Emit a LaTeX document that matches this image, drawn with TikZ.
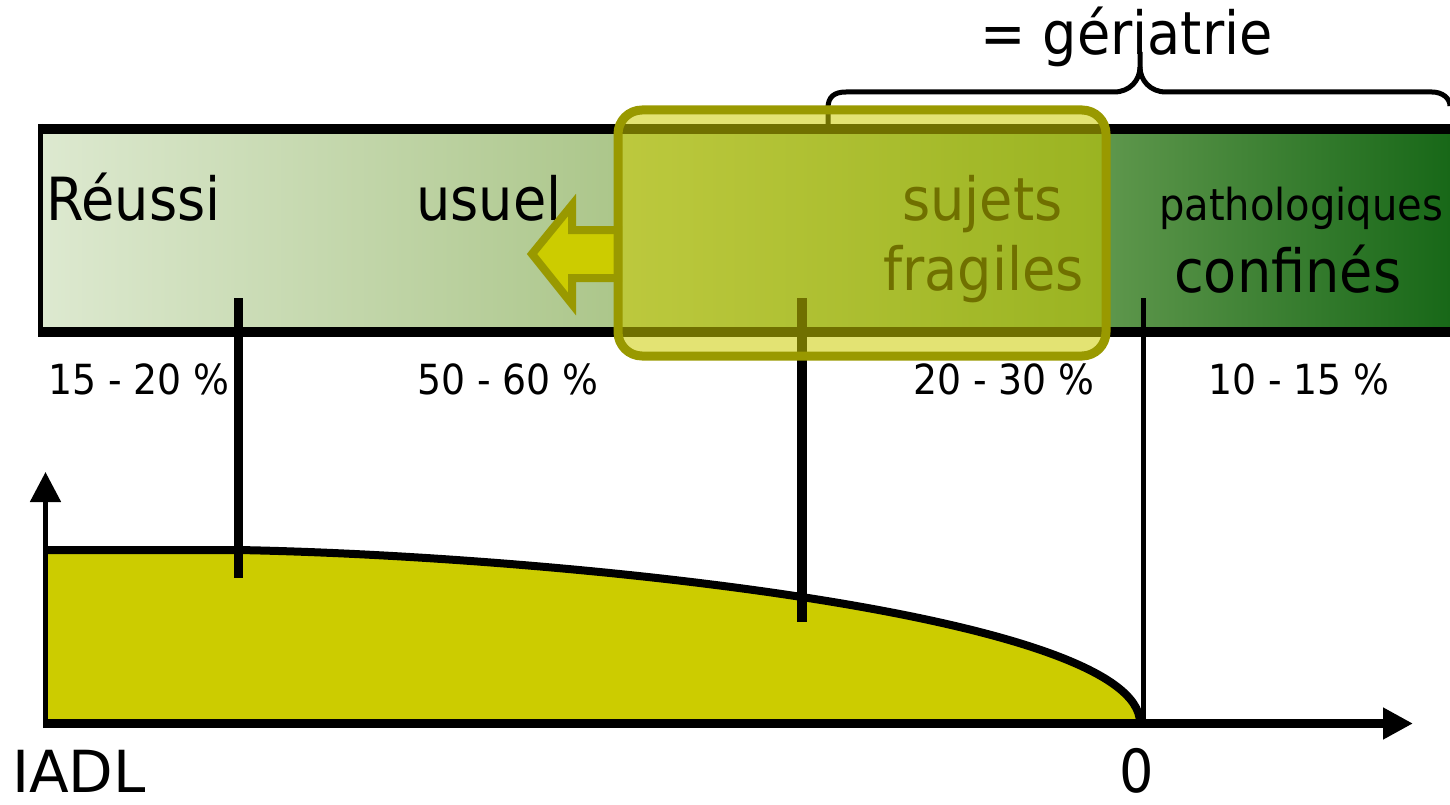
\documentclass[tikz,border=0pt]{standalone}
\usepackage{fontspec}
\setmainfont{DejaVu Sans}[FakeStretch=0.91]
\newfontfamily\widesans{DejaVu Sans}
\usetikzlibrary{arrows.meta}

\definecolor{barA}{RGB}{221,233,208}
\definecolor{barB}{RGB}{173,199,140}
\definecolor{barC}{RGB}{93,150,75}
\definecolor{barD}{RGB}{24,104,24}
\definecolor{frailfill}{RGB}{204,204,0}
\definecolor{frailedge}{RGB}{153,153,0}

% light-to-dark green ramp of the population bar
\pgfdeclarehorizontalshading{barshade}{100bp}{color(0bp)=(barA); color(25bp)=(barA); color(45bp)=(barB); color(63bp)=(barC); color(75bp)=(barD); color(100bp)=(barD)}

\begin{document}
\begin{tikzpicture}[x=1pt,y=-1pt,
  txt/.style={inner sep=0pt, anchor=base west},
  big/.style={font=\fontsize{59.5}{64}\selectfont},
  mid/.style={font=\fontsize{44}{48}\selectfont},
  pct/.style={font=\fontsize{41.5}{44}\selectfont},
  frailbox/.style={line width=9pt, draw=frailedge, fill=frailfill, fill opacity=0.55, rounded corners=24pt},
  frailarrow/.style={line width=8pt, draw=frailedge, fill=frailfill, line join=miter},
  brace/.style={line width=5pt, line join=round},
  axis/.style={-{Triangle[length=30pt,width=30pt]}}
]
\useasboundingbox (0,0) rectangle (1450,805);

% population bar
\shade[shading=barshade] (40,129) rectangle (1450,332);
\draw[line width=10pt] (40,129) -- (1450,129);
\draw[line width=10pt] (40,332) -- (1450,332);
\draw[line width=5pt] (40,124) -- (40,337);

% groups inside the bar
\node[txt,big] (reussi) at (46,220) {Réussi};
\node[txt,big] (usuel) at (416,220) {usuel};
\node[txt,big] (sujets) at (902,220) {sujets};
\node[txt,big] (fragiles) at (883,290) {fragiles};
\node[txt,mid] (patho) at (1159,220) {pathologiques};
\node[txt,big] (confines) at (1174,292) {confinés};

% IADL curve
\fill[frailfill] (45,723) -- (45,550) -- (238,550) .. controls (560,556) and (1140,615) .. (1140,723) -- cycle;
\draw[line width=8pt] (45,550) -- (238,550) .. controls (560,556) and (1140,615) .. (1140,723);

% axes
\coordinate (ybase) at (45.5,728);
\coordinate (ytop) at (45.5,472);
\coordinate (xbase) at (43,723.5);
\coordinate (xend) at (1413,723.5);
\draw[axis, line width=5pt] (ybase) -- (ytop);
\draw[axis, line width=9.5pt] (xbase) -- (xend);

% group limits
\coordinate (l1top) at (238,298); \coordinate (l1bot) at (238,578);
\coordinate (l2top) at (802,298); \coordinate (l2bot) at (802,622);
\coordinate (l3top) at (1143,298); \coordinate (l3bot) at (1143,722);
\draw[line width=9pt] (l1top) -- (l1bot);
\draw[line width=10pt] (l2top) -- (l2bot);
\draw[line width=5pt] (l3top) -- (l3bot);

% brace over the geriatric range
\draw[brace] (828,126) -- (828,108) .. controls (828,97) and (834,92) .. (846,92) -- (1114,92) .. controls (1130,92) and (1140,80) .. (1140,67) -- (1140,52);
\draw[brace] (1140,67) .. controls (1140,80) and (1150,92) .. (1166,92) -- (1432,92) .. controls (1442,92) and (1450,98) .. (1450,106);
\node[txt,big] (geriatrie) at (980,55) {= gériatrie};

% frail subjects: arrow and highlight box
\draw[frailarrow] (618,230) -- (572,230) -- (572,205) -- (532,254) -- (572,304) -- (572,278) -- (618,278) -- cycle;
\draw[frailbox] (618,110) rectangle (1106,356);

% shares of each group
\node[txt,pct] (p1) at (48,394) {15 - 20 \%};
\node[txt,pct] (p2) at (417,394) {50 - 60 \%};
\node[txt,pct] (p3) at (913,394) {20 - 30 \%};
\node[txt,pct] (p4) at (1208,394) {10 - 15 \%};

% axis labels
\node[txt, font=\widesans\fontsize{58}{64}\selectfont] (iadl) at (12,792) {IADL};
\node[inner sep=0pt, anchor=base, big] (zero) at (1137,792) {0};
\end{tikzpicture}
\end{document}
